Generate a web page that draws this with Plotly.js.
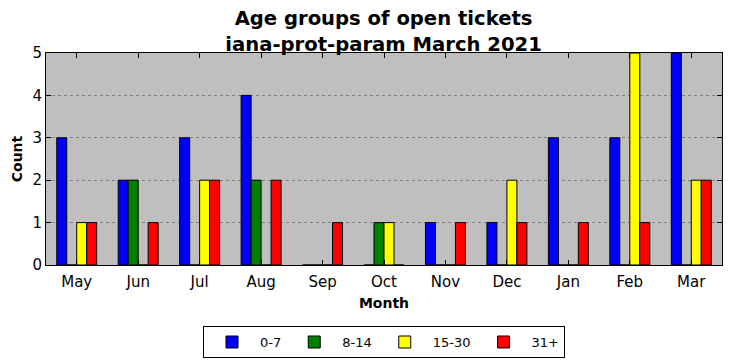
<!DOCTYPE html>
<html>
<head>
<meta charset="utf-8">
<script src="https://cdn.plot.ly/plotly-3.0.1.min.js"></script>
<style>html,body{margin:0;padding:0;background:#fff;}#chart{width:732px;height:361px;}</style>
</head>
<body>
<div id="chart"></div>
<script>
const months = ["May","Jun","Jul","Aug","Sep","Oct","Nov","Dec","Jan","Feb","Mar"];
const seriesNames = ["0-7","8-14","15-30","31+"];
const seriesColors = ["#0000ff","#008000","#ffff00","#ff0000"];
const age0to7   = [3,2,3,4,0,0,1,1,3,3,5];
const age8to14  = [0,2,0,2,0,1,0,0,0,0,0];
const age15to30 = [1,0,2,0,0,1,0,2,0,5,2];
const age31plus = [1,1,2,2,1,0,1,1,1,1,2];
const yTicks = [0,1,2,3,4,5];

const allValues = [age0to7, age8to14, age15to30, age31plus];
const traces = allValues.map((vals, i) => ({
  type: 'bar',
  name: seriesNames[i],
  x: months,
  y: vals,
  marker: {color: seriesColors[i], line: {color: '#000', width: 1}},
  hoverinfo: 'x+y+name'
}));

const font = 'DejaVu Sans, Liberation Sans, sans-serif';
const layout = {
  width: 732, height: 361,
  margin: {l: 46, r: 10, t: 53, b: 96, autoexpand: false},
  paper_bgcolor: '#ffffff',
  plot_bgcolor: '#bfbfbf',
  barmode: 'group',
  bargap: 0.35,
  bargroupgap: 0,
  font: {family: font, color: '#000'},
  title: {
    text: '<b>Age groups of open tickets<br>iana-prot-param March 2021</b>',
    font: {family: font, size: 19.6, color: '#000'},
    x: 0.524, xanchor: 'center',
    yref: 'container', y: 0.93, yanchor: 'middle'
  },
  xaxis: {
    type: 'category',
    range: [-0.5, 10.5],
    showline: true, linecolor: '#000', linewidth: 1, mirror: 'ticks',
    ticks: 'inside', ticklen: 5, tickcolor: '#000',
    tickfont: {family: font, size: 15, color: '#000'},
    ticklabelstandoff: 3,
    showgrid: false, zeroline: false,
    title: {text: '<b>Month</b>', font: {family: font, size: 14, color: '#000'}, standoff: 8}
  },
  yaxis: {
    range: [0, 5],
    tickvals: yTicks,
    showline: true, linecolor: '#000', linewidth: 1, mirror: 'ticks',
    ticks: 'inside', ticklen: 5, tickcolor: '#000',
    tickfont: {family: font, size: 15, color: '#000'},
    showgrid: true, gridcolor: '#808080', griddash: 'dot', gridwidth: 1,
    zeroline: false,
    title: {text: '<b>Count</b>', font: {family: font, size: 14, color: '#000'}, standoff: 6}
  },
  legend: {
    orientation: 'h',
    x: 0.5, xanchor: 'center',
    y: -0.288, yanchor: 'top',
    bordercolor: '#000', borderwidth: 1,
    bgcolor: '#fff',
    font: {family: font, size: 13, color: '#000'},
    itemwidth: 46,
    traceorder: 'normal'
  },
  showlegend: true
};

Plotly.newPlot('chart', traces, layout, {displayModeBar: false, staticPlot: true});
</script>
</body>
</html>
